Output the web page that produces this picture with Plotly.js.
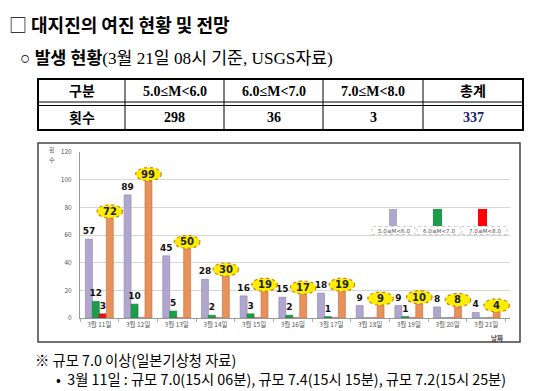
<!DOCTYPE html>
<html>
<head>
<meta charset="utf-8">
<script src="https://cdn.plot.ly/plotly-3.0.1.min.js"></script>
<style>
  html, body { margin: 0; padding: 0; background: #fff; }
  #chart { width: 550px; height: 391px; }
</style>
</head>
<body>
<div id="chart"></div>
<script>
// ---------- data ----------
const dates = ['3월 11일','3월 12일','3월 13일','3월 14일','3월 15일','3월 16일','3월 17일','3월 18일','3월 19일','3월 20일','3월 21일'];
const m5to6 = [57, 89, 45, 28, 16, 15, 18, 9, 9, 8, 4];
const m6to7 = [12, 10, 5, 2, 3, 2, 1, 0, 1, 0, 0];
const m7to8 = [3, 0, 0, 0, 0, 0, 0, 0, 0, 0, 0];
const dailyTotal = [72, 99, 50, 30, 19, 17, 19, 9, 10, 8, 4];
const seriesNames = ['5.0≤M&lt;6.0', '6.0≤M&lt;7.0', '7.0≤M&lt;8.0'];
const tableHeader = ['구분', '5.0≤M&lt;6.0', '6.0≤M&lt;7.0', '7.0≤M&lt;8.0', '총계'];
const tableRow = ['횟수', '298', '36', '3', '337'];
const yTicks = [0, 20, 40, 60, 80, 100, 120];

// ---------- helpers (pixel -> paper) ----------
const W = 550, H = 391;
const px = v => v / W;
const py = v => 1 - v / H;

const colors = {
  purple: '#b0a7ce', purpleLine: '#8c82b0',
  green: '#1c9e48', greenLine: '#137a35',
  red: '#e8141a', redLine: '#b00c10',
  orange: '#e8915a', orangeLine: '#c26c36'
};

const lbl = arr => arr.map(v => v > 0 ? '<b>' + v + '</b>' : '');
const barText = { family: 'DejaVu Sans', size: 9, color: '#111' };

function barTrace(y, name, fill, line, withText) {
  const t = {
    type: 'bar', x: dates, y: y, name: name,
    marker: { color: fill, line: { color: line, width: 0.6 } },
    hoverinfo: 'skip', cliponaxis: false
  };
  if (withText) {
    t.text = lbl(y);
    t.textposition = 'outside';
    t.constraintext = 'none';
    t.textfont = barText;
  }
  return t;
}

const traces = [
  barTrace(m5to6, seriesNames[0], colors.purple, colors.purpleLine, true),
  barTrace(m6to7, seriesNames[1], colors.green, colors.greenLine, true),
  barTrace(m7to8, seriesNames[2], colors.red, colors.redLine, true),
  barTrace(dailyTotal, '총계', colors.orange, colors.orangeLine, false)
];

const shapes = [];
const annotations = [];

function paperText(x, y, text, font, xanchor) {
  annotations.push({ xref: 'paper', yref: 'paper', x: px(x), y: py(y), text: text, showarrow: false,
    xanchor: xanchor || 'center', yanchor: 'middle', borderpad: 0, font: font });
}

// chart frame
shapes.push({ type: 'rect', xref: 'paper', yref: 'paper', x0: px(38), x1: px(520), y0: py(342), y1: py(143),
  line: { color: '#444', width: 1.5 }, layer: 'below' });

// ---------- summary table ----------
const colEdges = [38, 125, 224, 323, 423, 523];
const tTop = 79, tHeadBottom = 102, tDouble = 105.5, tBottom = 130;
shapes.push({ type: 'rect', xref: 'paper', yref: 'paper', x0: px(colEdges[0]), x1: px(colEdges[5]),
  y0: py(tBottom), y1: py(tTop), line: { color: '#000', width: 2 } });
[tHeadBottom, tDouble].forEach(yy => shapes.push({ type: 'line', xref: 'paper', yref: 'paper',
  x0: px(colEdges[0]), x1: px(colEdges[5]), y0: py(yy), y1: py(yy), line: { color: '#000', width: 1 } }));
colEdges.slice(1, -1).forEach(xx => shapes.push({ type: 'line', xref: 'paper', yref: 'paper',
  x0: px(xx), x1: px(xx), y0: py(tBottom), y1: py(tTop), line: { color: '#000', width: 1 } }));
const tableFont = 'Liberation Serif, Noto Sans CJK KR';
tableHeader.forEach((h, i) => {
  const cx = (colEdges[i] + colEdges[i + 1]) / 2;
  paperText(cx, (tTop + tHeadBottom) / 2 + 0.5, '<b>' + h + '</b>', { family: tableFont, size: 14, color: '#000' });
  paperText(cx, (tDouble + tBottom) / 2, '<b>' + tableRow[i] + '</b>',
    { family: tableFont, size: 14, color: i === 4 ? '#1c1c6e' : '#000' });
});

// ellipses for daily totals (group of 4 bars, bargap 0.28)
const barW = (1 - 0.28) / 4;
const orangeOffset = -0.36 + barW * 3.5;
dailyTotal.forEach((v, i) => {
  shapes.push({ type: 'circle', xref: 'x', yref: 'y',
    x0: i + orangeOffset - 0.33, x1: i + orangeOffset + 0.33, y0: v + 0.3, y1: v + 9.8,
    fillcolor: '#ffee00', line: { color: '#d0801a', width: 1.2, dash: 'dot' }, layer: 'above' });
  annotations.push({ xref: 'x', yref: 'y', x: i + orangeOffset, y: v + 5.05, text: '<b>' + v + '</b>',
    xanchor: 'center', yanchor: 'middle', showarrow: false,
    font: { family: 'DejaVu Sans', size: 10, color: '#222' } });
});

// legend swatches + boxes
const legendSw = [[389, 397, colors.purple], [433, 442, colors.green], [478, 487, '#ff0000']];
const legendBox = [[372, 415], [417, 460], [462, 507]];
legendSw.forEach(s => shapes.push({ type: 'rect', xref: 'paper', yref: 'paper',
  x0: px(s[0]), x1: px(s[1]), y0: py(226), y1: py(209), fillcolor: s[2], line: { width: 0 } }));
legendBox.forEach((b, i) => {
  shapes.push({ type: 'rect', xref: 'paper', yref: 'paper',
    x0: px(b[0]), x1: px(b[1]), y0: py(234.5), y1: py(226.5), fillcolor: 'rgba(0,0,0,0)',
    line: { color: '#aaa', width: 0.6, dash: 'dot' } });
  paperText((b[0] + b[1]) / 2, 230.5, seriesNames[i], { family: 'DejaVu Sans', size: 5.6, color: '#555' });
});

// ---------- document texts ----------
paperText(8, 24, '□ <b>대지진의 여진 현황 및 전망</b>', { family: 'Noto Sans CJK KR', size: 18, color: '#000' }, 'left');
paperText(19, 58, '○ <b>발생 현황</b>(3월 21일 08시 기준, USGS자료)', { family: tableFont, size: 17.2, color: '#000' }, 'left');
paperText(34, 359, '※ 규모 7.0 이상(일본기상청 자료)', { family: 'Noto Sans CJK KR', size: 14.3, color: '#000' }, 'left');
paperText(55, 378.5, '•  3월 11일 : 규모 7.0(15시 06분), 규모 7.4(15시 15분), 규모 7.2(15시 25분)',
  { family: 'Noto Sans CJK KR', size: 14.3, color: '#000' }, 'left');

// axis titles (y title stacked vertically, one glyph per line)
const axisFont = { family: 'Noto Sans CJK KR', size: 6, color: '#444' };
paperText(52, 150, '횟', axisFont);
paperText(52, 159, '수', axisFont);
paperText(497, 338, '<b>날짜</b>', { family: 'Noto Sans CJK KR', size: 6.5, color: '#444' });

const layout = {
  width: W, height: H,
  margin: { l: 0, r: 0, t: 0, b: 0 },
  paper_bgcolor: '#fff', plot_bgcolor: '#fff',
  showlegend: false,
  barmode: 'group', bargap: 0.28, bargroupgap: 0,
  xaxis: {
    domain: [px(80), px(510)], type: 'category',
    showline: true, linecolor: '#999', linewidth: 1,
    ticks: 'outside', tickson: 'boundaries', ticklen: 3, tickcolor: '#aaa',
    tickfont: { family: 'Noto Sans CJK KR', size: 6.5, color: '#555' },
    showgrid: false, fixedrange: true
  },
  yaxis: {
    domain: [py(318), py(152)], range: [0, 120],
    tickvals: yTicks, ticks: '', ticklabelstandoff: 6,
    showline: true, linecolor: '#999', linewidth: 1,
    gridcolor: '#d6d6d6', gridwidth: 1, zeroline: false,
    tickfont: { family: 'Noto Sans CJK KR', size: 6.5, color: '#555' },
    fixedrange: true
  },
  shapes: shapes,
  annotations: annotations
};

Plotly.newPlot('chart', traces, layout, { staticPlot: true, displayModeBar: false });
</script>
</body>
</html>
